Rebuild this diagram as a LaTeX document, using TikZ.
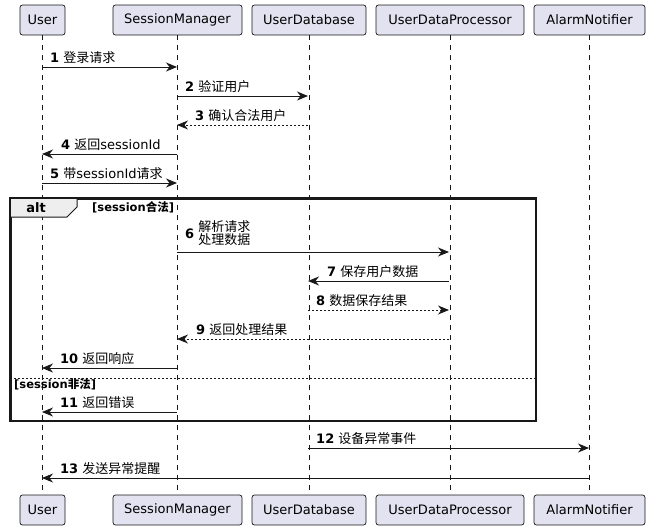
\documentclass[tikz,border=0pt]{standalone}
\usepackage{fontspec}
\setmainfont{DejaVu Sans}
\newfontfamily\cjk{Noto Sans CJK SC}
\usetikzlibrary{arrows.meta}
\newcommand\zh[1]{{\cjk #1}}
\definecolor{lc}{HTML}{181818}
\definecolor{pfill}{HTML}{E2E2F0}
\definecolor{tabfill}{HTML}{EEEEEE}
\tikzset{
  part/.style={draw=lc, fill=pfill, rounded corners=2.5pt, minimum height=30pt, inner xsep=7pt, inner ysep=0pt, font=\fontsize{13}{15}\selectfont, line width=0.7pt},
  life/.style={draw=lc, dash pattern=on 5pt off 5pt, line width=0.6pt},
  msg/.style={draw=lc, line width=0.9pt, -{Stealth[length=11pt,width=9pt,inset=3.5pt]}},
  ret/.style={msg, dash pattern=on 2pt off 2pt},
  lbl/.style={anchor=base west, inner sep=0pt, font=\fontsize{13}{15}\selectfont},
  grd/.style={anchor=base west, inner sep=0pt, font=\fontsize{11.5}{13}\selectfont\bfseries},
}
\begin{document}
\begin{tikzpicture}[x=1pt,y=-1pt]
\useasboundingbox (0,0) rectangle (650,530);
% participants
\node[part, minimum width=45pt] (uT) at (42.5,20) {User};
\node[part, minimum width=129pt] (sT) at (177.5,20) {SessionManager};
\node[part, minimum width=114pt] (dT) at (309,20) {UserDatabase};
\node[part, minimum width=148pt] (pT) at (450,20) {UserDataProcessor};
\node[part, minimum width=111pt] (aT) at (589.5,20) {AlarmNotifier};
\node[part, minimum width=45pt] (uB) at (42.5,510) {User};
\node[part, minimum width=129pt] (sB) at (177.5,510) {SessionManager};
\node[part, minimum width=114pt] (dB) at (309,510) {UserDatabase};
\node[part, minimum width=148pt] (pB) at (450,510) {UserDataProcessor};
\node[part, minimum width=111pt] (aB) at (589.5,510) {AlarmNotifier};
\draw[life] (uT) -- (uB);
\draw[life] (sT) -- (sB);
\draw[life] (dT) -- (dB);
\draw[life] (pT) -- (pB);
\draw[life] (aT) -- (aB);
% alt frame
\node[draw=lc, line width=1.5pt, minimum width=525pt, minimum height=222pt, anchor=north west, inner sep=0pt] (alt) at (10,198) {};
\filldraw[draw=lc, fill=tabfill, line width=1pt] (10,198) -- (77,198) -- (77,207) -- (67,217) -- (10,217) -- cycle;
\draw[line width=1.5pt, draw=lc] (alt.north west) rectangle (alt.south east);
\node[anchor=base, inner sep=0pt, font=\fontsize{13}{15}\selectfont\bfseries] (altl) at (36,212) {alt};
\node[grd] (g1) at (92,211) {[session\zh{合法}]};
\draw[draw=lc, line width=0.7pt, dash pattern=on 2pt off 2pt] (alt.west |- 0,378) coordinate (sepa) -- (alt.east |- 0,378) coordinate (sepb);
\node[grd] (g2) at (14,388) {[session\zh{非法}]};
% messages
\coordinate (m1a) at (42,67);   \coordinate (m1b) at (177,67);
\coordinate (m2a) at (177,96);  \coordinate (m2b) at (308,96);
\coordinate (m3a) at (308,125); \coordinate (m3b) at (177,125);
\coordinate (m4a) at (177,154); \coordinate (m4b) at (42,154);
\coordinate (m5a) at (42,183);  \coordinate (m5b) at (177,183);
\coordinate (m6a) at (177,252); \coordinate (m6b) at (449,252);
\coordinate (m7a) at (449,281); \coordinate (m7b) at (308,281);
\coordinate (m8a) at (308,310); \coordinate (m8b) at (449,310);
\coordinate (m9a) at (449,339); \coordinate (m9b) at (177,339);
\coordinate (m10a) at (177,368); \coordinate (m10b) at (42,368);
\coordinate (m11a) at (177,412); \coordinate (m11b) at (42,412);
\coordinate (m12a) at (308,448); \coordinate (m12b) at (589,448);
\coordinate (m13a) at (589,478); \coordinate (m13b) at (42,478);
\draw[msg] (m1a) -- (m1b);
\draw[msg] (m2a) -- (m2b);
\draw[ret] (m3a) -- (m3b);
\draw[msg] (m4a) -- (m4b);
\draw[msg] (m5a) -- (m5b);
\draw[msg] (m6a) -- (m6b);
\draw[msg] (m7a) -- (m7b);
\draw[ret] (m8a) -- (m8b);
\draw[ret] (m9a) -- (m9b);
\draw[msg] (m10a) -- (m10b);
\draw[msg] (m11a) -- (m11b);
\draw[msg] (m12a) -- (m12b);
\draw[msg] (m13a) -- (m13b);
% labels
\node[lbl] (l1) at (50,62.5) {\textbf{1} \zh{登录请求}};
\node[lbl] (l2) at (185,91.5) {\textbf{2} \zh{验证用户}};
\node[lbl] (l3) at (195,120.5) {\textbf{3} \zh{确认合法用户}};
\node[lbl] (l4) at (61,149.5) {\textbf{4} \zh{返回}sessionId};
\node[lbl] (l5) at (50,178.5) {\textbf{5} \zh{带}sessionId\zh{请求}};
\node[anchor=west, inner sep=0pt, font=\fontsize{13}{15}\selectfont] (l6) at (185,235) {\textbf{6} \begin{tabular}[c]{@{}l@{}}\zh{解析请求}\\[-2pt]\zh{处理数据}\end{tabular}};
\node[lbl] (l7) at (327,276.5) {\textbf{7} \zh{保存用户数据}};
\node[lbl] (l8) at (316,305.5) {\textbf{8} \zh{数据保存结果}};
\node[lbl] (l9) at (196,334.5) {\textbf{9} \zh{返回处理结果}};
\node[lbl] (l10) at (60,363.5) {\textbf{10} \zh{返回响应}};
\node[lbl] (l11) at (60,407.5) {\textbf{11} \zh{返回错误}};
\node[lbl] (l12) at (316,443.5) {\textbf{12} \zh{设备异常事件}};
\node[lbl] (l13) at (60,473.5) {\textbf{13} \zh{发送异常提醒}};
\end{tikzpicture}
\end{document}
